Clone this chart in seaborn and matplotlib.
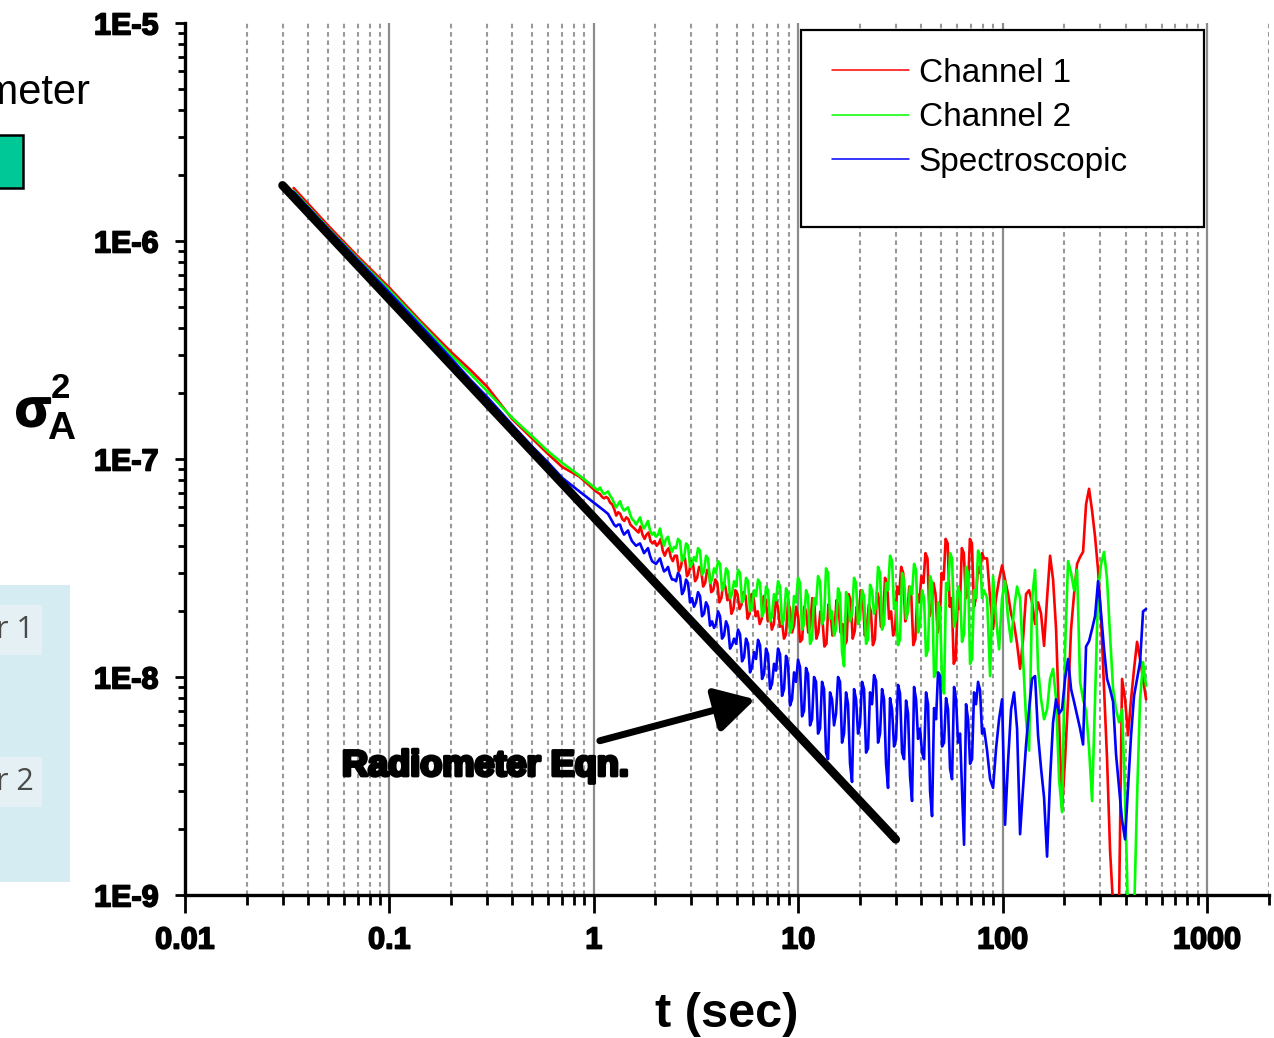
import numpy as np
import pandas as pd
import matplotlib
matplotlib.use("Agg")
import matplotlib.pyplot as plt
import seaborn as sns
from matplotlib.lines import Line2D
from matplotlib.patches import Rectangle
from matplotlib.ticker import LogLocator, NullFormatter, FixedLocator, FixedFormatter
import matplotlib.patheffects as pe

# ---------------- data (Allan variance, values in units of 1e-8) ----------------
UNIT = 1e-8
TAU_EARLY = [0.034, 0.05, 0.07, 0.1, 0.14, 0.2, 0.25, 0.3, 0.4, 0.5, 0.6, 0.7, 0.85]
TAU_MID_RANGE = (1.025, 81.1)     # log-evenly spaced sample times of the noisy part
TAU_TAIL_RANGE = (83.9, 503.0)    # log-evenly spaced sample times of the tail

CH1_EARLY = [175, 118, 85, 61, 43.5, 31, 25.5, 21.5, 15.2, 12.4, 10.5, 9.2, 8.3]
CH1_MID = [7.1, 6.9, 6.6, 6.6, 6.2, 5.5, 5.6, 5.2, 5.3, 4.9,
           4.7, 4.9, 4.3, 4.6, 4.1, 4.0, 4.3, 3.6, 3.9, 3.4,
           3.6, 3.2, 3.5, 3.0, 3.3, 2.85, 3.1, 2.7, 3.0, 2.5,
           2.7, 2.3, 2.6, 2.4, 2.05, 2.4, 2.15, 2.35, 1.95, 2.3,
           2.0, 1.85, 2.25, 1.95, 1.75, 2.1, 1.8, 1.57, 2.05, 1.73,
           1.9, 1.49, 2.0, 1.7, 2.2, 1.6, 1.85, 1.42, 2.0, 1.66,
           2.1, 1.75, 1.46, 2.25, 1.62, 1.95, 2.35, 1.7, 2.0, 1.49,
           2.3, 1.85, 2.7, 2.0, 1.66, 2.4, 3.0, 1.95, 2.35, 1.49,
           2.2, 2.7, 3.5, 2.05, 2.4, 1.75, 2.8, 4.1, 2.3, 1.21,
           2.05, 3.7, 2.5, 4.1, 2.3, 3.0, 3.5]
CH1_MID_HALF = [7.0, 6.7, 6.7, 6.3, 5.9, 5.7, 5.3, 5.4, 5.0, 4.8,
                4.6, 4.5, 4.5, 4.2, 4.2, 4.1, 3.8, 3.8, 3.55, 3.6,
                3.05, 3.6, 2.9, 3.4, 2.75, 3.2, 2.6, 3.1, 2.45, 2.8,
                2.2, 2.7, 2.25, 1.95, 2.5, 2.05, 2.45, 1.85, 2.4, 1.9,
                1.75, 2.35, 1.8, 1.65, 2.25, 1.7, 1.5, 2.2, 1.6, 2.1,
                1.45, 2.1, 1.6, 2.3, 1.5, 2.0, 1.38, 2.15, 1.55, 2.25,
                1.6, 1.4, 2.4, 1.5, 2.1, 2.5, 1.55, 2.15, 1.4, 2.45,
                1.7, 2.85, 1.85, 1.55, 2.6, 3.2, 1.8, 2.6, 1.4, 2.4,
                2.9, 3.7, 1.9, 2.7, 1.6, 3.0, 4.3, 2.1, 1.15, 2.3,
                3.9, 2.3, 4.3, 2.1, 3.2, 3.7]
CH1_TAIL = [3.5, 2.3, 1.66, 2.3, 2.8, 3.25, 2.8, 2.4, 1.95, 1.75,
            1.42, 1.09, 1.49, 2.4, 2.5, 2.2, 1.75, 2.2, 1.95, 1.39,
            2.3, 3.6, 2.8, 1.66, 0.64, 0.25, 0.42, 0.79, 1.66, 2.4,
            3.3, 3.55, 3.75, 6.2, 7.3, 5.8, 4.4, 3.1, 1.85, 0.88,
            0.42, 0.16, 0.09, 0.08, 0.09, 0.98, 0.79, 0.54, 0.79, 1.09,
            1.45, 1.21, 0.98, 0.79]

CH2_EARLY = [170, 115, 83, 59.5, 42.5, 30, 24.5, 20.5, 15.4, 12.7, 10.8, 9.6, 8.4]
CH2_MID = [7.3, 7.4, 6.9, 7.1, 6.6, 6.0, 6.4, 5.8, 6.0, 5.3,
           5.0, 5.4, 4.8, 5.2, 4.5, 4.4, 4.8, 4.0, 4.4, 3.75,
           3.9, 4.2, 3.5, 4.0, 3.3, 3.4, 3.8, 3.05, 3.5, 2.8,
           3.0, 3.3, 2.6, 3.05, 2.4, 2.6, 3.0, 2.3, 2.75, 2.1,
           2.35, 2.7, 2.0, 2.5, 1.9, 2.25, 2.6, 1.85, 2.4, 1.7,
           2.2, 2.7, 1.75, 2.35, 1.49, 2.15, 2.75, 1.85, 3.0, 2.0,
           1.66, 2.4, 1.12, 2.3, 1.95, 2.7, 1.85, 2.35, 1.49, 2.5,
           2.1, 3.0, 1.75, 2.5, 3.4, 2.2, 1.49, 2.8, 2.0, 2.4,
           3.1, 1.75, 2.3, 1.34, 2.7, 1.06, 2.05, 0.84, 2.5, 3.5,
           1.85, 2.4, 1.57, 3.0, 1.21, 2.3, 3.6, 2.5]
CH2_MID_HALF = [7.2, 7.1, 7.0, 6.8, 6.3, 6.2, 6.0, 5.9, 5.6, 5.2,
                5.2, 5.0, 5.0, 4.7, 4.6, 4.5, 4.3, 4.3, 4.0, 3.95,
                4.3, 3.4, 4.1, 3.2, 3.55, 3.9, 2.95, 3.6, 2.7, 3.15,
                3.4, 2.5, 3.15, 2.3, 2.75, 3.1, 2.2, 2.85, 2.0, 2.5,
                2.8, 1.9, 2.6, 1.8, 2.4, 2.75, 1.75, 2.55, 1.6, 2.35,
                2.85, 1.65, 2.5, 1.42, 2.3, 2.9, 1.75, 3.15, 1.85, 1.55,
                2.55, 1.3, 2.45, 1.8, 2.85, 1.75, 2.5, 1.42, 2.65, 1.95,
                3.2, 1.65, 2.7, 3.6, 2.05, 1.4, 3.0, 1.85, 2.6, 3.3,
                1.6, 2.5, 1.25, 2.9, 1.0, 2.2, 0.95, 2.7, 3.7, 1.7,
                2.6, 1.45, 3.2, 1.15, 2.5, 3.8, 2.3]
CH2_TAIL = [2.3, 1.01, 2.9, 1.85, 1.34, 2.3, 2.75, 1.85, 1.45, 2.05,
            2.6, 2.3, 1.21, 0.64, 0.46, 2.3, 3.1, 1.09, 0.79, 0.64,
            0.71, 0.98, 1.09, 0.79, 0.34, 0.24, 1.34, 3.4, 3.0, 2.5,
            3.1, 0.95, 0.79, 0.70, 0.47, 0.27, 0.79, 2.5, 3.3, 3.75,
            2.8, 1.55, 0.88, 0.71, 0.62, 0.71, 0.28, 0.08, 0.08, 0.08,
            0.28, 0.79, 1.17, 0.91]

SPEC_EARLY = [168, 114, 82, 58, 41.5, 29, 23, 19.3, 14.3, 11.4, 9.6, 8.2, 7.1]
SPEC_MID = [6.2, 6.0, 5.8, 5.6, 5.2, 4.9, 5.0, 4.5, 4.7, 4.2,
            4.0, 4.1, 3.7, 3.9, 3.4, 3.3, 3.5, 3.05, 3.2, 2.8,
            2.75, 2.9, 2.5, 2.7, 2.3, 2.2, 2.35, 1.95, 2.1, 1.8,
            1.75, 1.9, 1.55, 1.7, 1.4, 1.42, 1.57, 1.23, 1.42, 1.11,
            1.21, 1.4, 1.03, 1.27, 0.93, 1.07, 1.27, 0.88, 1.15, 0.79,
            0.95, 1.11, 0.70, 1.03, 0.64, 0.95, 0.58, 0.88, 0.42, 0.79,
            0.68, 0.95, 0.55, 0.75, 0.33, 0.79, 0.61, 0.88, 0.47, 0.75,
            0.96, 0.55, 0.79, 0.31, 0.71, 0.52, 0.84, 0.42, 0.68, 0.27,
            0.79, 0.58, 0.42, 0.75, 0.23, 0.64, 1.01, 0.5, 0.71, 0.34,
            0.79, 0.55, 0.17, 0.64, 0.42, 0.75, 0.87, 0.58]
SPEC_MID_HALF = [6.1, 5.9, 5.7, 5.4, 5.0, 5.0, 4.7, 4.6, 4.4, 4.1,
                 4.05, 3.9, 3.8, 3.6, 3.35, 3.4, 3.25, 3.1, 2.95, 2.8,
                 3.0, 2.4, 2.8, 2.2, 2.1, 2.45, 1.9, 2.2, 1.72, 1.68,
                 2.0, 1.5, 1.8, 1.35, 1.5, 1.65, 1.18, 1.5, 1.05, 1.3,
                 1.48, 0.98, 1.35, 0.88, 1.15, 1.35, 0.82, 1.25, 0.74, 1.05,
                 1.2, 0.66, 1.1, 0.6, 1.0, 0.55, 0.95, 0.45, 0.85, 0.6,
                 1.0, 0.5, 0.85, 0.4, 0.88, 0.55, 0.95, 0.45, 0.85, 1.02,
                 0.5, 0.88, 0.4, 0.8, 0.48, 0.92, 0.45, 0.78, 0.35, 0.9,
                 0.52, 0.45, 0.85, 0.3, 0.72, 1.05, 0.48, 0.8, 0.38, 0.9,
                 0.5, 0.3, 0.75, 0.4, 0.85, 0.95, 0.55]
SPEC_TAIL = [0.46, 0.34, 0.31, 0.47, 0.64, 0.79, 0.21, 0.41, 0.71, 0.85,
             0.58, 0.19, 0.31, 0.49, 0.71, 0.98, 1.01, 0.54, 0.38, 0.28,
             0.15, 0.34, 0.62, 0.79, 0.68, 0.71, 0.98, 1.21, 0.88, 0.77,
             0.67, 0.58, 0.49, 1.38, 1.46, 1.66, 1.9, 2.75, 1.95, 1.34,
             0.98, 0.88, 0.77, 0.44, 0.31, 0.22, 0.18, 0.31, 0.54, 0.82,
             0.98, 1.17, 2.0, 2.05]

RADIOMETER_TAU = [0.03, 30.0]
RADIOMETER_VAL = [1.8e-6, 1.8e-9]

SERIES_NAMES = ["Channel 1", "Channel 2", "Spectroscopic"]
SERIES_COLORS = ["#ff0000", "#00ff00", "#0000ff"]
X_TICKS = [0.01, 0.1, 1, 10, 100, 1000]
X_TICK_LABELS = ["0.01", "0.1", "1", "10", "100", "1000"]
Y_TICKS = [1e-9, 1e-8, 1e-7, 1e-6, 1e-5]
Y_TICK_LABELS = ["1E-9", "1E-8", "1E-7", "1E-6", "1E-5"]


def interleave(a, b):
    a = np.asarray(a, float)
    b = np.asarray(b, float)[:len(a) - 1]
    out = np.empty(len(a) + len(b))
    out[0::2] = a
    out[1::2] = b
    return out


def build(name, early, mid, mid_half, tail):
    midv = interleave(mid, mid_half)
    tau = np.concatenate([
        np.array(TAU_EARLY[:len(early)]),
        np.geomspace(TAU_MID_RANGE[0], TAU_MID_RANGE[1], len(midv)),
        np.geomspace(TAU_TAIL_RANGE[0], TAU_TAIL_RANGE[1], len(tail)),
    ])
    val = np.concatenate([early, midv, tail]) * UNIT
    return pd.DataFrame({"tau": tau, "sigma2": val, "series": name})


df = pd.concat([
    build(SERIES_NAMES[0], CH1_EARLY, CH1_MID, CH1_MID_HALF, CH1_TAIL),
    build(SERIES_NAMES[1], CH2_EARLY, CH2_MID, CH2_MID_HALF, CH2_TAIL),
    build(SERIES_NAMES[2], SPEC_EARLY, SPEC_MID, SPEC_MID_HALF, SPEC_TAIL),
], ignore_index=True)
df_rad = pd.DataFrame({"tau": RADIOMETER_TAU, "sigma2": RADIOMETER_VAL})

# ---------------- style ----------------
sns.set_theme(style="white")
plt.rcParams["font.family"] = ["Liberation Sans", "DejaVu Sans"]
plt.rcParams.update({"text.color": "black", "axes.labelcolor": "black",
                     "xtick.color": "black", "ytick.color": "black"})

W, H = 1274, 1038
fig = plt.figure(figsize=(W / 100, H / 100), dpi=100)
fig.patch.set_facecolor("white")


def fx(px):
    return px / W


def fy(py):
    return 1 - py / H


ax = fig.add_axes([fx(185), fy(895), (1268.6 - 185) / W, (895 - 23) / H])
ax.set_facecolor("white")
ax.set_xscale("log")
ax.set_yscale("log")

sns.lineplot(data=df, x="tau", y="sigma2", hue="series", hue_order=SERIES_NAMES,
             palette=dict(zip(SERIES_NAMES, SERIES_COLORS)), estimator=None,
             sort=False, lw=1.9, legend=False, ax=ax, zorder=3)
sns.lineplot(data=df_rad, x="tau", y="sigma2", color="black", lw=6.2,
             estimator=None, legend=False, ax=ax, zorder=4,
             solid_capstyle="round")

ax.set_xlim(0.01, 2000)
ax.set_ylim(1e-9, 1e-5)

# ticks
ax.xaxis.set_major_locator(FixedLocator(X_TICKS))
ax.xaxis.set_major_formatter(FixedFormatter(X_TICK_LABELS))
ax.xaxis.set_minor_locator(LogLocator(base=10, subs=np.arange(2, 10), numticks=30))
ax.xaxis.set_minor_formatter(NullFormatter())
ax.yaxis.set_major_locator(FixedLocator(Y_TICKS))
ax.yaxis.set_major_formatter(FixedFormatter(Y_TICK_LABELS))
ax.yaxis.set_minor_locator(LogLocator(base=10, subs=np.arange(2, 10), numticks=30))
ax.yaxis.set_minor_formatter(NullFormatter())

ax.tick_params(axis="x", which="major", bottom=True, direction="out", length=13,
               width=2, color="black", pad=9, labelsize=22)
ax.tick_params(axis="x", which="minor", bottom=True, direction="out", length=7,
               width=2, color="black")
ax.tick_params(axis="y", which="major", left=True, direction="out", length=7,
               width=2, color="black", pad=12, labelsize=22)
ax.tick_params(axis="y", which="minor", left=True, direction="out", length=5,
               width=2, color="black")
for lab in ax.get_xticklabels() + ax.get_yticklabels():
    lab.set_fontweight("bold")
    lab.set_color("black")
    lab.set_path_effects([pe.withStroke(linewidth=1.2, foreground="black")])

# grid: vertical lines only
ax.grid(False)
ax.grid(True, which="major", axis="x", color="#8c8c8c", lw=1.6, ls="-", zorder=0)
ax.grid(True, which="minor", axis="x", color="#999999", lw=1.5, ls=(0, (2.2, 1.8)), zorder=0)
ax.set_axisbelow(True)

for s in ["top", "right"]:
    ax.spines[s].set_visible(False)
for s in ["left", "bottom"]:
    ax.spines[s].set_color("black")
    ax.spines[s].set_linewidth(2.4)

ax.set_ylabel("")
ax.set_xlabel("t (sec)", fontsize=35, fontweight="bold", color="black", labelpad=26)

# legend: frame drawn as a box, entries placed inside it
ax.add_patch(Rectangle((0.5685, 0.766), 0.3719, 0.226, transform=ax.transAxes,
                       facecolor="white", edgecolor="black", lw=1.6, zorder=5,
                       clip_on=False))
handles = [Line2D([], [], color=c, lw=1.1) for c in SERIES_COLORS]
leg = ax.legend(handles=handles, labels=SERIES_NAMES, loc="upper left",
                bbox_to_anchor=(0.5971, 0.960), borderaxespad=0, borderpad=0,
                fontsize=24, frameon=False, handlelength=2.3,
                handletextpad=0.3, labelspacing=0.40)
for t in leg.get_texts():
    t.set_color("black")
leg.set_zorder(6)

# annotation
ax.annotate("", xy=(6.15, 7.9e-9), xytext=(1.07, 5.1e-9),
            arrowprops=dict(arrowstyle="-|>,head_length=0.8,head_width=0.45",
                            lw=5, color="black", shrinkA=0, shrinkB=0,
                            mutation_scale=30), zorder=5)
ax.text(0.0586, 3.9e-9, "Radiometer Eqn.", fontsize=26, fontweight="bold",
        ha="left", va="center", color="black", zorder=5,
        path_effects=[pe.withStroke(linewidth=2.5, foreground="black")])

# ---------------- slide fragments at left ----------------
fig.text(fx(91), fy(93), "Radiometer", fontsize=30, ha="right", va="center",
         color="black")
fig.add_artist(Rectangle((fx(-5), fy(188)), fx(28), 53 / H, transform=fig.transFigure,
                         facecolor="#00c896", edgecolor="black", lw=1.8))
fig.text(fx(33), fy(412), "σ", fontsize=38, fontweight="bold", ha="center", va="center",
         color="black", path_effects=[pe.withStroke(linewidth=1.5, foreground="black")])
fig.text(fx(60), fy(389), "2", fontsize=25, fontweight="bold", ha="center", va="center",
         color="black")
fig.text(fx(61), fy(429), "A", fontsize=28, fontweight="bold", ha="center", va="center",
         color="black")

fig.add_artist(Rectangle((0, fy(882)), fx(70), (882 - 585) / H, transform=fig.transFigure,
                         facecolor="#d5ecf2", edgecolor="none"))
for ytop, txt in [(605, "r 1"), (757, "r 2")]:
    fig.add_artist(Rectangle((0, fy(ytop + 50)), fx(42), 50 / H,
                             transform=fig.transFigure, facecolor="#e4f0f3",
                             edgecolor="none"))
    fig.text(fx(34), fy(ytop + 25), txt, fontsize=22, ha="right", va="center",
             color="#4a4a4a", family=["Open Sans", "Liberation Sans"])

fig.savefig("out.png", dpi=100, facecolor="white")
